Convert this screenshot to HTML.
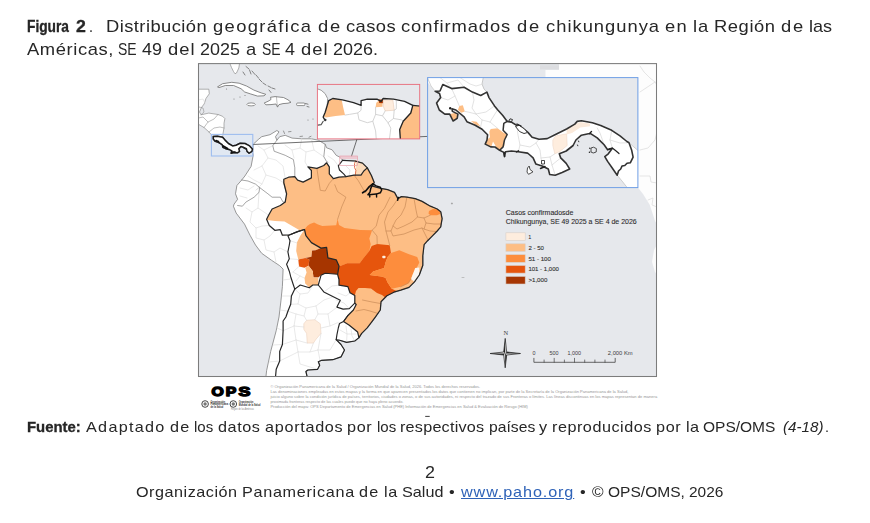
<!DOCTYPE html>
<html lang="es"><head><meta charset="utf-8"><title>Figura 2</title>
<style>
html,body{margin:0;padding:0;background:#fff;}
body{width:870px;height:523px;position:relative;overflow:hidden;font-family:"Liberation Sans",sans-serif;color:#272727;}
.t{position:absolute;white-space:nowrap;line-height:1;transform-origin:0 0;}
.b{font-weight:bold;-webkit-text-stroke:0.3px #1e1e1e;}
.i{font-style:italic;}
.u{color:#2f63b8;text-decoration:underline;text-underline-offset:1px;}
svg{position:absolute;left:0;top:0;}
</style></head><body>
<svg width="870" height="523" viewBox="0 0 870 523">
<defs><clipPath id="fr"><rect x="198.5" y="63.5" width="458" height="313"/></clipPath><clipPath id="pan"><rect x="427.6" y="77.6" width="210.3" height="110"/></clipPath><clipPath id="guy"><rect x="317.4" y="84.4" width="102.3" height="54.5"/></clipPath><filter id="bl" x="-2%" y="-2%" width="104%" height="104%"><feGaussianBlur stdDeviation="0.45"/></filter></defs>
<rect x="198.5" y="63.5" width="458" height="313" fill="#e6e8ec"/>
<g clip-path="url(#fr)"><g filter="url(#bl)">
<polygon points="559.0,63.0 658.0,63.0 658.0,225.0 655.2,221.4 649.7,204.8 643.0,194.0 637.9,187.6 637.9,77.6 545.5,77.6 545.5,70.0 559.0,70.0" fill="#fdfdfd" stroke="none" stroke-width="0.6" stroke-linejoin="round" />
<polygon points="658.0,243.0 654.0,250.0 652.0,262.0 655.0,272.0 658.0,276.0" fill="#fbfbfb" stroke="none" stroke-width="0.6" stroke-linejoin="round" />
<rect x="540" y="65.3" width="19" height="4.2" fill="#dcdde0"/>
<polyline points="640.0,66.0 644.0,72.0 650.0,78.0 655.0,82.0 657.0,85.0" fill="none" stroke="#dadada" stroke-width="0.7" stroke-linejoin="round" stroke-linecap="round" />
<polyline points="655.0,82.0 646.0,88.0 640.0,92.0" fill="none" stroke="#dadada" stroke-width="0.7" stroke-linejoin="round" stroke-linecap="round" />
<polyline points="640.0,150.0 648.0,148.0 655.0,140.0 657.0,132.0" fill="none" stroke="#dadada" stroke-width="0.7" stroke-linejoin="round" stroke-linecap="round" />
<polyline points="640.0,176.0 650.0,176.0 651.0,182.0 657.0,183.0" fill="none" stroke="#dadada" stroke-width="0.7" stroke-linejoin="round" stroke-linecap="round" />
<polyline points="648.0,200.0 653.0,198.0 652.0,205.0 657.0,207.0" fill="none" stroke="#dadada" stroke-width="0.7" stroke-linejoin="round" stroke-linecap="round" />
<polygon points="229.7,63.0 239.6,63.0 238.8,68.0 236.5,73.0 235.0,73.8 233.5,71.5 231.5,67.5" fill="#fff" stroke="#808080" stroke-width="0.6" stroke-linejoin="round" />
<polygon points="198.0,89.2 208.8,89.2 209.3,93.8 206.0,98.4 204.2,103.9 201.4,107.6 199.5,112.0 201.0,114.8 208.8,113.1 218.0,114.5 222.6,116.3 224.9,118.6 224.0,123.2 224.0,128.0 222.8,134.7 222.8,136.7 213.2,136.7 209.0,132.0 204.0,127.5 198.0,124.0" fill="#fff" stroke="#808080" stroke-width="0.6" stroke-linejoin="round" />
<polyline points="198.5,100.0 203.0,99.0 205.0,103.0" fill="none" stroke="#dadada" stroke-width="0.6" stroke-linejoin="round" stroke-linecap="round" />
<polyline points="199.0,107.0 203.0,108.0 204.0,112.0 201.0,114.8" fill="none" stroke="#808080" stroke-width="0.5" stroke-linejoin="round" stroke-linecap="round" />
<polyline points="204.0,127.5 208.0,122.0 214.0,119.0 218.0,114.5" fill="none" stroke="#808080" stroke-width="0.5" stroke-linejoin="round" stroke-linecap="round" />
<polyline points="209.0,132.0 214.0,128.0 220.0,127.0 224.0,128.0" fill="none" stroke="#808080" stroke-width="0.5" stroke-linejoin="round" stroke-linecap="round" />
<polyline points="198.5,118.0 203.0,117.0 206.0,120.0 208.0,122.0" fill="none" stroke="#808080" stroke-width="0.5" stroke-linejoin="round" stroke-linecap="round" />
<polygon points="217.5,86.9 222.6,83.7 231.8,82.3 239.1,83.2 246.5,86.0 253.9,90.1 261.2,92.9 265.8,94.3 264.0,95.8 257.5,96.1 250.2,93.8 244.7,92.0 241.0,88.7 233.6,85.5 225.3,85.5 219.0,87.6" fill="#fff" stroke="#767676" stroke-width="0.85" stroke-linejoin="round" />
<ellipse cx="251.1" cy="104.4" rx="4.2" ry="1.5" fill="#fff" stroke="#767676" stroke-width="0.8"/>
<polygon points="264.2,103.0 268.0,101.3 271.0,99.5 270.5,97.3 275.0,96.6 283.5,97.5 288.0,99.8 291.0,102.3 288.0,103.2 283.0,103.6 279.0,104.6 277.5,107.0 276.0,104.0 271.0,104.6 266.0,104.8" fill="#fff" stroke="#767676" stroke-width="0.85" stroke-linejoin="round" />
<polyline points="276.5,97.0 276.8,101.0 277.5,107.0" fill="none" stroke="#808080" stroke-width="0.5" stroke-linejoin="round" stroke-linecap="round" />
<rect x="296.6" y="103" width="8.3" height="2.6" rx="1" fill="#fff" stroke="#767676" stroke-width="0.8"/>
<polyline points="246.0,66.5 249.0,69.0" fill="none" stroke="#777" stroke-width="0.9" stroke-linejoin="round" stroke-linecap="round" />
<polyline points="249.5,70.0 251.0,74.0" fill="none" stroke="#777" stroke-width="0.9" stroke-linejoin="round" stroke-linecap="round" />
<polyline points="252.0,71.0 255.0,74.5" fill="none" stroke="#777" stroke-width="0.9" stroke-linejoin="round" stroke-linecap="round" />
<polyline points="256.0,75.0 258.5,78.0" fill="none" stroke="#777" stroke-width="0.9" stroke-linejoin="round" stroke-linecap="round" />
<polyline points="259.0,79.0 262.0,82.0" fill="none" stroke="#777" stroke-width="0.9" stroke-linejoin="round" stroke-linecap="round" />
<polyline points="263.0,83.0 266.0,85.0" fill="none" stroke="#777" stroke-width="0.9" stroke-linejoin="round" stroke-linecap="round" />
<polyline points="268.0,86.0 271.0,87.5" fill="none" stroke="#777" stroke-width="0.9" stroke-linejoin="round" stroke-linecap="round" />
<polyline points="272.0,88.0 275.0,89.0" fill="none" stroke="#777" stroke-width="0.9" stroke-linejoin="round" stroke-linecap="round" />
<polyline points="269.0,90.0 271.0,92.5" fill="none" stroke="#777" stroke-width="0.9" stroke-linejoin="round" stroke-linecap="round" />
<polyline points="243.0,72.0 245.0,75.0" fill="none" stroke="#777" stroke-width="0.9" stroke-linejoin="round" stroke-linecap="round" />
<polyline points="305.5,103.5 308.0,104.2" fill="none" stroke="#777" stroke-width="0.9" stroke-linejoin="round" stroke-linecap="round" />
<polyline points="307.0,106.5 309.0,107.0" fill="none" stroke="#777" stroke-width="0.9" stroke-linejoin="round" stroke-linecap="round" />
<circle cx="226.5" cy="89" r="0.6" fill="#808080"/>
<circle cx="234" cy="99" r="0.6" fill="#808080"/>
<circle cx="240" cy="97" r="0.6" fill="#808080"/>
<circle cx="245" cy="95.5" r="0.6" fill="#808080"/>
<circle cx="308" cy="120" r="0.6" fill="#808080"/>
<circle cx="313" cy="119" r="0.6" fill="#808080"/>
<polyline points="283.5,131.0 284.5,133.5" fill="none" stroke="#808080" stroke-width="0.8" stroke-linejoin="round" stroke-linecap="round" />
<polyline points="288.5,131.8 291.0,131.5" fill="none" stroke="#808080" stroke-width="0.8" stroke-linejoin="round" stroke-linecap="round" />
<polyline points="300.0,136.5 302.5,136.2" fill="none" stroke="#808080" stroke-width="0.8" stroke-linejoin="round" stroke-linecap="round" />
<polyline points="309.0,137.2 311.0,136.3" fill="none" stroke="#808080" stroke-width="0.8" stroke-linejoin="round" stroke-linecap="round" />
<polygon points="253.2,144.3 258.3,139.5 261.7,136.7 270.0,134.7 276.9,130.5 279.0,131.9 275.5,136.7 276.9,140.2 279.7,136.7 285.2,135.3 292.1,138.1 301.7,138.8 311.4,138.8 318.3,140.2 325.2,144.3 326.6,147.8 332.1,149.8 336.2,155.3 340.3,157.4 342.5,160.3 354.9,161.0 362.5,163.1 367.3,167.9 371.4,175.5 374.2,182.4 372.4,186.2 380.7,188.3 387.6,189.7 394.5,192.4 397.9,198.6 401.4,196.6 406.9,197.2 415.2,198.6 422.1,201.4 430.3,206.2 437.2,209.0 440.7,211.7 442.1,218.6 440.7,226.9 437.2,231.0 431.7,236.6 427.6,240.7 424.1,244.7 422.8,255.7 422.8,265.3 419.3,275.0 414.5,281.9 409.0,287.4 400.7,290.2 393.8,292.2 386.9,295.7 381.0,301.7 380.3,310.0 375.5,316.9 371.4,322.4 367.2,327.9 361.7,333.4 359.0,337.6 354.8,341.0 346.6,342.4 339.7,340.3 336.2,339.7 341.0,344.5 344.5,350.0 341.0,356.9 332.8,359.7 321.7,360.3 318.3,361.7 319.7,365.2 317.6,369.3 307.9,370.0 305.9,371.4 307.2,377.0 265.9,377.0 266.6,370.7 270.7,351.4 276.2,330.7 279.0,317.0 281.0,300.2 282.4,286.4 283.1,269.1 279.7,265.7 271.4,260.2 261.7,253.3 255.5,245.0 250.0,235.2 244.5,224.1 236.2,213.1 233.4,206.2 234.1,204.1 237.6,199.3 235.5,193.8 236.9,185.5 241.7,180.0 244.9,176.0 251.1,166.4 253.2,155.3 252.8,152.6" fill="#fff" stroke="#808080" stroke-width="0.8" stroke-linejoin="round" />
<polygon points="283.8,182.8 283.8,179.3 288.6,177.2 294.8,176.7 297.6,180.2 303.1,182.1 311.4,177.9 311.4,170.5 307.9,166.9 316.9,168.3 323.8,165.5 326.6,162.8 329.3,166.9 329.3,173.8 333.4,178.6 339.0,177.2 345.9,176.6 354.1,175.2 361.0,175.2 363.8,171.0 367.3,167.9 371.4,175.5 374.2,182.4 372.4,186.2 380.7,188.3 387.6,189.7 394.5,192.4 397.9,198.6 401.4,196.6 406.9,197.2 415.2,198.6 422.1,201.4 430.3,206.2 437.2,209.0 440.7,211.7 442.1,218.6 440.7,226.9 437.2,231.0 431.7,236.6 427.6,240.7 424.1,244.7 422.8,255.7 422.8,265.3 419.3,275.0 414.5,281.9 409.0,287.4 400.7,290.2 393.8,292.2 386.9,295.7 381.0,301.7 380.3,310.0 375.5,316.9 371.4,322.4 367.2,327.9 361.7,333.4 359.0,337.6 357.6,332.1 349.3,325.2 343.5,321.5 347.9,315.5 353.4,310.0 356.2,304.5 354.8,303.1 354.8,295.5 350.0,292.8 347.9,286.6 339.0,285.2 339.0,279.5 337.6,274.3 339.0,266.0 336.2,259.8 327.9,257.8 326.6,247.4 321.0,248.1 311.4,242.6 305.9,235.7 304.5,229.5 297.6,231.6 289.3,235.0 282.4,235.2 280.3,229.7 274.8,230.3 269.3,225.5 266.6,219.3 268.6,215.2 272.1,209.0 280.3,205.5 285.2,202.1 286.6,193.8 284.5,185.5" fill="#fdbe85" stroke="none" stroke-width="0.6" stroke-linejoin="round" />
<polygon points="267.2,220.0 275.0,221.0 284.5,221.4 291.4,225.5 299.6,230.2 297.6,231.6 289.3,235.0 282.4,235.2 280.3,229.7 274.8,230.3 269.3,225.5 266.6,219.3" fill="#fff" stroke="none" stroke-width="0.6" stroke-linejoin="round" />
<polygon points="304.5,229.5 307.2,226.0 310.0,224.0 314.1,222.6 318.0,224.5 322.4,226.0 336.2,225.3 337.6,219.0 339.0,225.0 344.5,228.1 360.0,230.0 372.1,230.2 369.3,238.4 370.7,244.0 369.3,250.9 363.8,257.8 359.7,263.3 347.2,263.3 340.3,266.0 339.0,266.0 336.2,259.8 327.9,257.8 326.6,247.4 321.0,248.1 311.4,242.6 305.9,235.7" fill="#fd8d3c" stroke="none" stroke-width="0.6" stroke-linejoin="round" />
<polygon points="371.7,246.0 377.2,244.0 389.7,245.3 391.0,252.9 387.6,257.1 385.5,262.6 384.1,268.1 373.1,271.6 369.7,275.0 381.4,276.4 385.5,277.8 387.6,282.6 391.7,288.8 396.6,290.9 393.8,292.2 386.9,295.7 381.0,300.5 385.2,297.6 382.0,295.0 377.0,293.0 371.0,288.5 365.0,288.0 358.5,288.0 356.0,291.0 354.8,295.5 350.0,292.8 347.9,286.6 339.0,285.2 339.0,279.5 337.6,274.3 339.0,266.0 340.3,266.0 347.2,263.3 359.7,263.3 363.8,257.8 369.3,250.9" fill="#e6550d" stroke="none" stroke-width="0.6" stroke-linejoin="round" />
<polygon points="391.0,252.9 399.3,250.2 409.0,254.3 417.2,257.1 419.3,262.6 416.6,268.1 413.1,273.6 411.0,279.1 409.0,283.3 400.7,286.7 391.7,288.8 387.6,282.6 385.5,277.8 381.4,276.4 369.7,275.0 373.1,271.6 384.1,268.1 385.5,262.6 387.6,257.1" fill="#fd8d3c" stroke="none" stroke-width="0.6" stroke-linejoin="round" />
<polygon points="415.2,268.1 419.3,267.4 419.3,275.0 414.5,281.9 411.0,279.1 413.1,273.6" fill="#fdf6ee" stroke="none" stroke-width="0.6" stroke-linejoin="round" />
<rect x="382.3" y="255.8" width="3.2" height="2.4" rx="0.8" fill="#fdeedf"/>
<polygon points="429.0,211.0 433.0,209.0 437.2,209.3 440.2,212.0 440.0,214.0 437.0,215.3 430.3,215.2 428.5,213.5" fill="#fd8d3c" stroke="none" stroke-width="0.6" stroke-linejoin="round" />
<polyline points="316.9,168.3 318.3,177.9 320.3,190.3 325.2,191.0 329.3,183.4 333.4,178.6" fill="none" stroke="#c98b58" stroke-width="0.7" stroke-linejoin="round" stroke-linecap="round" />
<polyline points="334.8,184.8 337.6,191.7 345.9,197.2 341.7,206.9 337.6,219.3" fill="none" stroke="#c98b58" stroke-width="0.7" stroke-linejoin="round" stroke-linecap="round" />
<polyline points="354.1,175.2 358.3,180.7 363.8,190.3 366.0,193.0" fill="none" stroke="#c98b58" stroke-width="0.7" stroke-linejoin="round" stroke-linecap="round" />
<polyline points="390.0,197.2 384.5,208.3 379.0,215.2 376.2,226.2 372.1,230.2" fill="none" stroke="#c98b58" stroke-width="0.7" stroke-linejoin="round" stroke-linecap="round" />
<polyline points="397.9,198.6 393.0,206.0 388.0,212.0 384.5,222.0 386.0,231.0 389.7,245.3" fill="none" stroke="#c98b58" stroke-width="0.7" stroke-linejoin="round" stroke-linecap="round" />
<polyline points="406.9,197.2 405.0,207.0 401.0,215.0 396.0,220.0 393.0,226.0 391.0,231.0 386.0,231.0" fill="none" stroke="#c98b58" stroke-width="0.7" stroke-linejoin="round" stroke-linecap="round" />
<polyline points="414.0,198.5 416.0,210.0 417.5,217.0 412.0,222.0 404.0,226.0 397.0,229.0 393.0,226.0" fill="none" stroke="#c98b58" stroke-width="0.7" stroke-linejoin="round" stroke-linecap="round" />
<polyline points="417.5,217.0 424.0,218.0 430.3,215.2" fill="none" stroke="#c98b58" stroke-width="0.7" stroke-linejoin="round" stroke-linecap="round" />
<polyline points="424.0,218.0 426.0,223.0 434.0,224.0 440.7,224.0" fill="none" stroke="#c98b58" stroke-width="0.7" stroke-linejoin="round" stroke-linecap="round" />
<polyline points="426.0,223.0 424.0,229.0 430.0,231.0 436.0,231.5" fill="none" stroke="#c98b58" stroke-width="0.7" stroke-linejoin="round" stroke-linecap="round" />
<polyline points="391.0,231.0 393.0,236.0 404.0,234.0 414.0,230.0 422.0,228.0 424.0,229.0" fill="none" stroke="#c98b58" stroke-width="0.7" stroke-linejoin="round" stroke-linecap="round" />
<polyline points="422.0,228.0 426.0,236.0 428.0,240.0" fill="none" stroke="#c98b58" stroke-width="0.7" stroke-linejoin="round" stroke-linecap="round" />
<polyline points="372.1,230.2 377.0,236.0 377.2,244.0" fill="none" stroke="#c98b58" stroke-width="0.7" stroke-linejoin="round" stroke-linecap="round" />
<polyline points="283.8,182.8 286.6,193.8" fill="none" stroke="#c98b58" stroke-width="0.7" stroke-linejoin="round" stroke-linecap="round" />
<polyline points="362.5,300.0 372.0,302.0 380.5,303.5" fill="none" stroke="#c98b58" stroke-width="0.7" stroke-linejoin="round" stroke-linecap="round" />
<polyline points="356.0,311.0 364.0,309.5 370.0,311.0 378.0,313.5" fill="none" stroke="#c98b58" stroke-width="0.7" stroke-linejoin="round" stroke-linecap="round" />
<polyline points="400.7,286.7 407.5,283.5 411.0,279.1" fill="none" stroke="#c98b58" stroke-width="0.7" stroke-linejoin="round" stroke-linecap="round" />
<polygon points="304.5,229.5 305.9,235.7 311.4,242.6 321.0,248.1 315.5,250.2 312.1,250.5 311.4,256.7 305.2,258.1 298.3,259.5 296.2,250.9 296.9,242.6 300.3,235.7" fill="#fdbe85" stroke="none" stroke-width="0.6" stroke-linejoin="round" />
<polygon points="298.3,259.5 305.2,258.1 309.3,259.5 308.6,265.7 304.5,267.8 299.0,266.4" fill="#e6550d" stroke="none" stroke-width="0.6" stroke-linejoin="round" />
<polygon points="312.1,250.5 315.5,250.2 321.0,248.1 326.6,247.4 327.9,257.8 336.2,259.8 339.0,266.0 337.6,274.3 325.2,273.3 321.0,275.3 318.3,277.4 313.4,277.4 312.8,271.2 308.6,265.7 309.3,259.5 305.2,258.1 311.4,256.7" fill="#a63603" stroke="none" stroke-width="0.6" stroke-linejoin="round" />
<polygon points="305.2,267.8 308.6,265.7 312.8,271.2 313.4,277.4 318.3,277.4 318.3,285.0 312.8,285.0 309.3,287.4 305.2,283.6 304.5,278.1 306.6,272.6" fill="#fdbe85" stroke="none" stroke-width="0.6" stroke-linejoin="round" />
<polygon points="303.8,323.8 306.6,320.3 314.8,319.7 320.3,323.8 321.0,333.4 316.2,339.0 313.4,343.1 307.2,343.1 306.6,333.4 303.8,329.3" fill="#feedde" stroke="#e8cdb8" stroke-width="0.5" stroke-linejoin="round" />
<polygon points="355.6,161.7 362.5,163.1 367.3,167.9 363.8,171.0 361.0,175.2 355.2,175.6 355.8,169.0" fill="#fcdcbc" stroke="none" stroke-width="0.6" stroke-linejoin="round" />
<polyline points="355.9,160.5 354.5,163.4 354.5,167.6 355.9,170.3 355.2,175.6" fill="none" stroke="#e0643c" stroke-width="0.9" stroke-linejoin="round" stroke-linecap="round" />
<polyline points="258.0,146.0 264.0,150.0 268.0,158.0 262.0,166.0 254.0,170.0" fill="none" stroke="#dadada" stroke-width="0.6" stroke-linejoin="round" stroke-linecap="round" />
<polyline points="268.0,158.0 276.0,160.0 283.0,166.0 285.2,178.1" fill="none" stroke="#dadada" stroke-width="0.6" stroke-linejoin="round" stroke-linecap="round" />
<polyline points="262.0,166.0 266.0,175.0 262.0,184.0 256.0,190.0" fill="none" stroke="#dadada" stroke-width="0.6" stroke-linejoin="round" stroke-linecap="round" />
<polyline points="266.0,175.0 276.0,178.0 283.8,182.8" fill="none" stroke="#dadada" stroke-width="0.6" stroke-linejoin="round" stroke-linecap="round" />
<polyline points="264.0,150.0 272.8,145.7" fill="none" stroke="#dadada" stroke-width="0.6" stroke-linejoin="round" stroke-linecap="round" />
<polyline points="248.0,176.0 254.0,180.0 262.0,184.0" fill="none" stroke="#dadada" stroke-width="0.6" stroke-linejoin="round" stroke-linecap="round" />
<polyline points="256.0,190.0 259.7,187.6" fill="none" stroke="#dadada" stroke-width="0.6" stroke-linejoin="round" stroke-linecap="round" />
<polyline points="285.0,145.0 292.0,150.0 300.0,148.0 306.0,152.0 314.0,150.0 323.8,156.7" fill="none" stroke="#dadada" stroke-width="0.6" stroke-linejoin="round" stroke-linecap="round" />
<polyline points="292.0,150.0 294.0,158.0" fill="none" stroke="#dadada" stroke-width="0.6" stroke-linejoin="round" stroke-linecap="round" />
<polyline points="306.0,152.0 305.0,162.0 307.9,166.9" fill="none" stroke="#dadada" stroke-width="0.6" stroke-linejoin="round" stroke-linecap="round" />
<polyline points="300.0,148.0 301.7,138.8" fill="none" stroke="#dadada" stroke-width="0.6" stroke-linejoin="round" stroke-linecap="round" />
<polyline points="314.0,150.0 311.4,138.8" fill="none" stroke="#dadada" stroke-width="0.6" stroke-linejoin="round" stroke-linecap="round" />
<polyline points="240.0,188.0 248.0,190.0 254.0,186.0" fill="none" stroke="#dadada" stroke-width="0.6" stroke-linejoin="round" stroke-linecap="round" />
<polyline points="240.0,196.0 247.0,198.0" fill="none" stroke="#dadada" stroke-width="0.6" stroke-linejoin="round" stroke-linecap="round" />
<polyline points="246.0,208.0 252.0,212.0 258.0,208.0 264.0,212.0 268.6,215.2" fill="none" stroke="#dadada" stroke-width="0.6" stroke-linejoin="round" stroke-linecap="round" />
<polyline points="252.0,212.0 250.0,222.0 256.0,228.0 262.0,226.0 269.3,225.5" fill="none" stroke="#dadada" stroke-width="0.6" stroke-linejoin="round" stroke-linecap="round" />
<polyline points="256.0,228.0 256.0,238.0 264.0,240.0 270.0,236.0 274.8,230.3" fill="none" stroke="#dadada" stroke-width="0.6" stroke-linejoin="round" stroke-linecap="round" />
<polyline points="264.0,240.0 266.0,250.0 274.0,252.0 280.0,248.0 287.9,251.9" fill="none" stroke="#dadada" stroke-width="0.6" stroke-linejoin="round" stroke-linecap="round" />
<polyline points="274.0,252.0 276.0,262.0" fill="none" stroke="#dadada" stroke-width="0.6" stroke-linejoin="round" stroke-linecap="round" />
<polyline points="258.0,208.0 259.0,192.4" fill="none" stroke="#dadada" stroke-width="0.6" stroke-linejoin="round" stroke-linecap="round" />
<polyline points="290.0,240.7 297.0,243.0" fill="none" stroke="#dadada" stroke-width="0.6" stroke-linejoin="round" stroke-linecap="round" />
<polyline points="289.3,258.8 298.3,259.5" fill="none" stroke="#dadada" stroke-width="0.6" stroke-linejoin="round" stroke-linecap="round" />
<polyline points="293.0,272.0 299.0,266.4" fill="none" stroke="#dadada" stroke-width="0.6" stroke-linejoin="round" stroke-linecap="round" />
<polyline points="293.0,272.0 300.0,276.0 304.5,278.1" fill="none" stroke="#dadada" stroke-width="0.6" stroke-linejoin="round" stroke-linecap="round" />
<polyline points="296.0,281.0 300.0,276.0" fill="none" stroke="#dadada" stroke-width="0.6" stroke-linejoin="round" stroke-linecap="round" />
<polyline points="283.0,280.0 291.0,279.0" fill="none" stroke="#dadada" stroke-width="0.6" stroke-linejoin="round" stroke-linecap="round" />
<polyline points="282.0,296.0 291.4,296.0" fill="none" stroke="#dadada" stroke-width="0.6" stroke-linejoin="round" stroke-linecap="round" />
<polyline points="280.0,310.0 287.9,311.2" fill="none" stroke="#dadada" stroke-width="0.6" stroke-linejoin="round" stroke-linecap="round" />
<polyline points="277.0,328.0 283.1,330.7" fill="none" stroke="#dadada" stroke-width="0.6" stroke-linejoin="round" stroke-linecap="round" />
<polyline points="273.0,345.0 282.4,344.5" fill="none" stroke="#dadada" stroke-width="0.6" stroke-linejoin="round" stroke-linecap="round" />
<polyline points="269.0,362.0 279.7,361.0" fill="none" stroke="#dadada" stroke-width="0.6" stroke-linejoin="round" stroke-linecap="round" />
<polyline points="294.8,289.1 300.0,294.0 308.0,293.0 312.0,287.0" fill="none" stroke="#dadada" stroke-width="0.6" stroke-linejoin="round" stroke-linecap="round" />
<polyline points="300.0,294.0 298.0,304.0 290.7,304.3" fill="none" stroke="#dadada" stroke-width="0.6" stroke-linejoin="round" stroke-linecap="round" />
<polyline points="298.0,304.0 306.0,308.0 316.0,306.0 324.0,300.0 332.8,296.9" fill="none" stroke="#dadada" stroke-width="0.6" stroke-linejoin="round" stroke-linecap="round" />
<polyline points="316.0,306.0 318.0,314.0 314.8,319.7" fill="none" stroke="#dadada" stroke-width="0.6" stroke-linejoin="round" stroke-linecap="round" />
<polyline points="318.0,314.0 328.0,314.0 336.2,307.9" fill="none" stroke="#dadada" stroke-width="0.6" stroke-linejoin="round" stroke-linecap="round" />
<polyline points="328.0,314.0 330.0,326.0 338.3,322.4" fill="none" stroke="#dadada" stroke-width="0.6" stroke-linejoin="round" stroke-linecap="round" />
<polyline points="330.0,326.0 321.0,328.0" fill="none" stroke="#dadada" stroke-width="0.6" stroke-linejoin="round" stroke-linecap="round" />
<polyline points="306.0,308.0 304.0,316.0 306.6,320.3" fill="none" stroke="#dadada" stroke-width="0.6" stroke-linejoin="round" stroke-linecap="round" />
<polyline points="287.9,311.2 296.0,314.0 304.0,316.0" fill="none" stroke="#dadada" stroke-width="0.6" stroke-linejoin="round" stroke-linecap="round" />
<polyline points="296.0,314.0 294.0,326.0 303.8,327.0" fill="none" stroke="#dadada" stroke-width="0.6" stroke-linejoin="round" stroke-linecap="round" />
<polyline points="283.1,330.7 294.0,326.0" fill="none" stroke="#dadada" stroke-width="0.6" stroke-linejoin="round" stroke-linecap="round" />
<polyline points="294.0,326.0 296.0,340.0 307.2,343.1" fill="none" stroke="#dadada" stroke-width="0.6" stroke-linejoin="round" stroke-linecap="round" />
<polyline points="282.4,344.5 296.0,340.0" fill="none" stroke="#dadada" stroke-width="0.6" stroke-linejoin="round" stroke-linecap="round" />
<polyline points="296.0,340.0 298.0,352.0 310.0,352.0 313.4,343.1" fill="none" stroke="#dadada" stroke-width="0.6" stroke-linejoin="round" stroke-linecap="round" />
<polyline points="279.7,361.0 298.0,352.0" fill="none" stroke="#dadada" stroke-width="0.6" stroke-linejoin="round" stroke-linecap="round" />
<polyline points="310.0,352.0 318.0,350.0 321.0,333.4" fill="none" stroke="#dadada" stroke-width="0.6" stroke-linejoin="round" stroke-linecap="round" />
<polyline points="318.0,350.0 330.0,350.0 336.2,339.7" fill="none" stroke="#dadada" stroke-width="0.6" stroke-linejoin="round" stroke-linecap="round" />
<polyline points="298.0,352.0 300.0,364.0 317.6,369.3" fill="none" stroke="#dadada" stroke-width="0.6" stroke-linejoin="round" stroke-linecap="round" />
<polyline points="318.0,350.0 320.0,360.0" fill="none" stroke="#dadada" stroke-width="0.6" stroke-linejoin="round" stroke-linecap="round" />
<polyline points="324.5,291.4 332.0,286.0 339.0,285.2" fill="none" stroke="#dadada" stroke-width="0.6" stroke-linejoin="round" stroke-linecap="round" />
<polyline points="338.0,293.0 346.0,296.0 350.0,292.8" fill="none" stroke="#dadada" stroke-width="0.6" stroke-linejoin="round" stroke-linecap="round" />
<polyline points="336.0,300.0 344.0,303.0 349.3,308.6" fill="none" stroke="#dadada" stroke-width="0.6" stroke-linejoin="round" stroke-linecap="round" />
<polyline points="346.0,326.0 347.0,334.0 346.6,342.4" fill="none" stroke="#dadada" stroke-width="0.6" stroke-linejoin="round" stroke-linecap="round" />
<polyline points="351.0,329.0 352.0,336.0 354.8,341.0" fill="none" stroke="#dadada" stroke-width="0.6" stroke-linejoin="round" stroke-linecap="round" />
<polyline points="340.0,330.0 347.0,334.0 356.0,334.0" fill="none" stroke="#dadada" stroke-width="0.6" stroke-linejoin="round" stroke-linecap="round" />
<polyline points="328.0,156.0 334.0,160.0 338.3,165.9" fill="none" stroke="#dadada" stroke-width="0.6" stroke-linejoin="round" stroke-linecap="round" />
<polyline points="346.0,166.0 350.0,170.0 349.0,176.5" fill="none" stroke="#dadada" stroke-width="0.6" stroke-linejoin="round" stroke-linecap="round" />
<polyline points="276.9,140.2 272.8,145.7 274.1,151.2 285.2,155.3 293.4,159.5 294.8,167.8 294.8,176.7" fill="none" stroke="#808080" stroke-width="0.7" stroke-linejoin="round" stroke-linecap="round" />
<polyline points="237.6,205.5 242.4,206.2 245.9,202.1 254.1,197.2 259.0,192.4 259.7,187.6 255.5,184.1 248.0,181.0 241.7,180.0" fill="none" stroke="#808080" stroke-width="0.7" stroke-linejoin="round" stroke-linecap="round" />
<polyline points="259.7,187.6 267.9,193.8 272.1,197.2 280.3,197.2 283.1,202.1 285.2,202.1" fill="none" stroke="#808080" stroke-width="0.7" stroke-linejoin="round" stroke-linecap="round" />
<polyline points="325.2,144.3 323.8,156.7 326.6,161.6 327.9,162.2" fill="none" stroke="#808080" stroke-width="0.7" stroke-linejoin="round" stroke-linecap="round" />
<polygon points="283.8,182.8 283.8,179.3 288.6,177.2 294.8,176.7 297.6,180.2 303.1,182.1 311.4,177.9 311.4,170.5 307.9,166.9 316.9,168.3 323.8,165.5 326.6,162.8 329.3,166.9 329.3,173.8 333.4,178.6 339.0,177.2 345.9,176.6 354.1,175.2 361.0,175.2 363.8,171.0 367.3,167.9 371.4,175.5 374.2,182.4 372.4,186.2 380.7,188.3 387.6,189.7 394.5,192.4 397.9,198.6 401.4,196.6 406.9,197.2 415.2,198.6 422.1,201.4 430.3,206.2 437.2,209.0 440.7,211.7 442.1,218.6 440.7,226.9 437.2,231.0 431.7,236.6 427.6,240.7 424.1,244.7 422.8,255.7 422.8,265.3 419.3,275.0 414.5,281.9 409.0,287.4 400.7,290.2 393.8,292.2 386.9,295.7 381.0,301.7 380.3,310.0 375.5,316.9 371.4,322.4 367.2,327.9 361.7,333.4 359.0,337.6 357.6,332.1 349.3,325.2 343.5,321.5 347.9,315.5 353.4,310.0 356.2,304.5 354.8,303.1 354.8,295.5 350.0,292.8 347.9,286.6 339.0,285.2 339.0,279.5 337.6,274.3 339.0,266.0 336.2,259.8 327.9,257.8 326.6,247.4 321.0,248.1 311.4,242.6 305.9,235.7 304.5,229.5 297.6,231.6 289.3,235.0 282.4,235.2 280.3,229.7 274.8,230.3 269.3,225.5 266.6,219.3 268.6,215.2 272.1,209.0 280.3,205.5 285.2,202.1 286.6,193.8 284.5,185.5" fill="none" stroke="#262626" stroke-width="1.25" stroke-linejoin="round" />
<polyline points="372.8,183.8 369.3,186.6 365.9,190.7 362.6,192.8" fill="none" stroke="#111" stroke-width="1.7" stroke-linejoin="round" stroke-linecap="round" />
<polyline points="372.8,183.8 376.2,185.9 380.3,187.2 381.7,190.0 380.3,192.8 376.2,194.1 371.4,194.5 367.9,194.8 370.0,192.1 370.7,188.6 372.8,183.8" fill="none" stroke="#111" stroke-width="1.5" stroke-linejoin="round" stroke-linecap="round" />
<polyline points="369.5,194.6 369.8,196.9" fill="none" stroke="#111" stroke-width="1.5" stroke-linejoin="round" stroke-linecap="round" />
<polyline points="376.5,194.1 376.6,197.0" fill="none" stroke="#111" stroke-width="1.4" stroke-linejoin="round" stroke-linecap="round" />
<polyline points="397.6,200.3 398.3,197.6" fill="none" stroke="#111" stroke-width="1.5" stroke-linejoin="round" stroke-linecap="round" />
<polyline points="304.5,229.5 297.6,231.6 289.3,235.0 287.9,235.7 290.0,240.7 289.3,245.0 287.9,251.9 289.3,258.8 286.6,264.3 289.3,271.2 290.7,276.7 293.4,285.0 294.8,289.1 300.3,285.0 309.3,287.8 312.8,285.0 318.3,285.0 321.0,275.3 325.2,273.3 337.6,274.3" fill="none" stroke="#262626" stroke-width="1.15" stroke-linejoin="round" stroke-linecap="round" />
<polyline points="318.3,285.0 323.8,291.9 334.8,297.4 340.3,300.2 336.9,307.1 343.1,309.1 349.3,308.6 354.8,303.1" fill="none" stroke="#262626" stroke-width="1.15" stroke-linejoin="round" stroke-linecap="round" />
<polyline points="343.5,321.5 339.5,323.5 338.3,328.0 336.9,334.8 336.2,339.7 339.7,340.3 346.6,342.4 354.8,341.0 359.0,337.6" fill="none" stroke="#262626" stroke-width="1.15" stroke-linejoin="round" stroke-linecap="round" />
<polyline points="336.2,339.7 341.0,344.5 344.5,350.0 341.0,356.9 332.8,359.7 321.7,360.3 318.3,361.7 319.7,365.2 317.6,369.3 307.9,370.0 305.9,371.4 307.2,377.0" fill="none" stroke="#262626" stroke-width="1.2" stroke-linejoin="round" stroke-linecap="round" />
<polyline points="294.8,289.1 291.4,296.0 290.7,304.3 287.9,311.2 285.9,317.0 283.1,321.0 283.1,330.7 282.4,344.5 279.7,351.4 279.7,361.0 276.2,369.3 275.5,377.0" fill="none" stroke="#262626" stroke-width="1.2" stroke-linejoin="round" stroke-linecap="round" />
<polyline points="343.5,321.5 347.9,315.5" fill="none" stroke="#262626" stroke-width="1.1" stroke-linejoin="round" stroke-linecap="round" />
<polyline points="342.5,160.3 338.3,165.9 339.5,170.0 343.9,174.1 345.9,176.6" fill="none" stroke="#262626" stroke-width="1.1" stroke-linejoin="round" stroke-linecap="round" />
<polyline points="342.5,160.3 354.9,161.0 362.5,163.1 367.3,167.9" fill="none" stroke="#262626" stroke-width="1.2" stroke-linejoin="round" stroke-linecap="round" />
<polygon points="213.3,136.6 217.4,136.3 222.6,137.3 225.0,140.1 228.4,143.5 232.6,145.9 236.0,145.2 240.2,143.2 245.0,143.5 249.1,145.6 252.4,149.0 251.9,151.4 249.1,153.2 247.1,151.4 246.4,148.7 243.6,147.3 240.9,146.6 238.8,148.7 239.5,151.4 237.4,152.8 234.0,152.5 231.2,153.2 231.9,150.8 229.1,149.4 225.7,148.7 222.9,147.3 222.2,144.6 218.8,142.5 215.3,141.4 213.3,139.0" fill="#fff" stroke="#1e1e1e" stroke-width="1.5" stroke-linejoin="round" />
<polyline points="451.3,203.5 452.5,203.5" fill="none" stroke="#999" stroke-width="0.7" stroke-linejoin="round" stroke-linecap="round" />
<polyline points="451.9,202.9 451.9,204.1" fill="none" stroke="#999" stroke-width="0.7" stroke-linejoin="round" stroke-linecap="round" />
<polyline points="462.0,277.5 464.0,277.5" fill="none" stroke="#aaa" stroke-width="0.7" stroke-linejoin="round" stroke-linecap="round" />
<polyline points="252.8,144.5 427.6,136.4" fill="none" stroke="#4a4a4a" stroke-width="0.8" stroke-linejoin="round" stroke-linecap="round" />
<polyline points="357.0,139.0 351.4,156.5" fill="none" stroke="#4a4a4a" stroke-width="0.8" stroke-linejoin="round" stroke-linecap="round" />
<rect x="211.4" y="134.4" width="41.4" height="21.6" fill="#dbe6fb" fill-opacity="0.45" stroke="#9fbdf0" stroke-width="1.1"/>
<polygon points="213.3,136.6 217.4,136.3 222.6,137.3 225.0,140.1 228.4,143.5 232.6,145.9 236.0,145.2 240.2,143.2 245.0,143.5 249.1,145.6 252.4,149.0 251.9,151.4 249.1,153.2 247.1,151.4 246.4,148.7 243.6,147.3 240.9,146.6 238.8,148.7 239.5,151.4 237.4,152.8 234.0,152.5 231.2,153.2 231.9,150.8 229.1,149.4 225.7,148.7 222.9,147.3 222.2,144.6 218.8,142.5 215.3,141.4 213.3,139.0" fill="#fff" stroke="#1e1e1e" stroke-width="1.5" stroke-linejoin="round" />
<polyline points="216.0,140.6 218.5,141.6" fill="none" stroke="#111" stroke-width="1.6" stroke-linejoin="round" stroke-linecap="round" />
<polyline points="223.2,146.0 227.5,148.6" fill="none" stroke="#111" stroke-width="1.8" stroke-linejoin="round" stroke-linecap="round" />
<polyline points="231.5,152.0 235.0,152.0" fill="none" stroke="#111" stroke-width="1.6" stroke-linejoin="round" stroke-linecap="round" />
<polyline points="243.0,147.6 245.5,149.0" fill="none" stroke="#222" stroke-width="1.2" stroke-linejoin="round" stroke-linecap="round" />
<rect x="339.8" y="156" width="17.8" height="3" fill="#efc3cc" fill-opacity="0.8"/><rect x="339.8" y="156" width="17.8" height="9.6" fill="none" stroke="#e7a3ae" stroke-width="0.7"/>
</g></g>
<rect x="317.4" y="84.4" width="102.3" height="54.5" fill="#e6e8ec"/>
<g clip-path="url(#guy)"><g filter="url(#bl)">
<polygon points="316.3,88.2 321.1,90.2 325.2,93.7 327.6,98.5 328.7,100.6 332.8,98.5 342.5,99.9 353.5,102.7 361.1,105.4 361.1,100.6 367.3,99.2 377.0,99.2 381.1,101.3 383.2,98.5 393.5,99.2 404.6,101.3 412.8,105.4 420.4,106.1 420.4,139.9 316.3,139.9" fill="#fff" stroke="none" stroke-width="0.6" stroke-linejoin="round" />
<polygon points="328.7,100.6 332.8,98.9 341.8,100.3 343.2,107.5 345.0,115.1 335.6,116.0 325.9,117.4 323.9,116.4 326.6,107.5" fill="#fdbe85" stroke="none" stroke-width="0.6" stroke-linejoin="round" />
<polygon points="376.3,102.7 379.0,100.6 382.5,102.7 382.5,106.8 375.6,107.2" fill="#fdbe85" stroke="none" stroke-width="0.6" stroke-linejoin="round" />
<polygon points="378.6,99.5 383.0,99.5 383.3,103.3 379.2,103.1" fill="#a63603" stroke="none" stroke-width="0.6" stroke-linejoin="round" />
<polygon points="383.2,99.9 392.8,99.9 393.5,104.7 394.2,110.2 385.2,110.9 383.2,106.1" fill="#feedde" stroke="#e7c9b3" stroke-width="0.6" stroke-linejoin="round" />
<polygon points="412.8,105.4 420.4,106.1 420.4,139.9 400.4,139.9 399.7,129.6 403.2,121.3 410.1,113.0" fill="#fdbe85" stroke="none" stroke-width="0.6" stroke-linejoin="round" />
<polyline points="345.0,115.1 349.4,114.4 357.7,113.0 361.1,110.2 361.1,105.4" fill="none" stroke="#cfcfcf" stroke-width="0.9" stroke-linejoin="round" stroke-linecap="round" />
<polyline points="357.7,113.0 359.0,119.9 367.3,122.7 372.8,121.3 375.6,114.4 375.6,107.2" fill="none" stroke="#cfcfcf" stroke-width="0.9" stroke-linejoin="round" stroke-linecap="round" />
<polyline points="372.8,121.3 375.6,130.9 376.3,139.9" fill="none" stroke="#cfcfcf" stroke-width="0.9" stroke-linejoin="round" stroke-linecap="round" />
<polyline points="375.6,114.4 382.5,115.8 385.2,110.9" fill="none" stroke="#cfcfcf" stroke-width="0.9" stroke-linejoin="round" stroke-linecap="round" />
<polyline points="382.5,115.8 388.0,122.7 390.8,128.2 389.4,139.9" fill="none" stroke="#cfcfcf" stroke-width="0.9" stroke-linejoin="round" stroke-linecap="round" />
<polyline points="388.0,122.7 393.5,118.5 394.2,110.2" fill="none" stroke="#cfcfcf" stroke-width="0.9" stroke-linejoin="round" stroke-linecap="round" />
<polyline points="393.5,118.5 401.8,119.9 403.2,121.3" fill="none" stroke="#cfcfcf" stroke-width="0.9" stroke-linejoin="round" stroke-linecap="round" />
<polyline points="394.2,110.2 396.3,108.9 396.3,101.3" fill="none" stroke="#cfcfcf" stroke-width="0.9" stroke-linejoin="round" stroke-linecap="round" />
<polyline points="316.3,88.4 321.1,90.2 325.2,93.7 327.6,98.5 327.3,104.7" fill="none" stroke="#9a9a9a" stroke-width="1" stroke-linejoin="round" stroke-linecap="round" />
<polyline points="316.3,125.4 321.1,124.7 323.2,121.3" fill="none" stroke="#555" stroke-width="1.2" stroke-linejoin="round" stroke-linecap="round" />
<polyline points="325.2,120.6 323.2,117.1 325.2,112.3 326.6,107.5 328.7,100.6 332.8,98.5 342.5,99.9 353.5,102.7 361.1,105.4 361.1,100.6 367.3,99.2 377.0,99.2 381.1,101.3 383.2,98.5 393.5,99.2 404.6,101.3 412.8,105.4 410.8,113.0 403.2,121.3 399.7,129.6 400.4,139.9" fill="none" stroke="#262626" stroke-width="1.35" stroke-linejoin="round" stroke-linecap="round" />
<polyline points="412.8,105.4 420.4,106.1" fill="none" stroke="#262626" stroke-width="1.3" stroke-linejoin="round" stroke-linecap="round" />
<circle cx="325.4" cy="119.9" r="1.1" fill="#333"/>
</g></g>
<rect x="317.4" y="84.4" width="102.3" height="54.5" fill="none" stroke="#e8707f" stroke-width="0.95"/>
<rect x="427.6" y="77.6" width="210.3" height="110" fill="#e6e8ec"/>
<g clip-path="url(#pan)"><g filter="url(#bl)">
<polygon points="427.0,77.0 483.4,77.0 482.0,84.0 484.0,89.0 486.9,92.1 480.7,95.5 472.4,92.1 464.1,87.2 451.7,88.6 442.8,84.5 440.0,91.0 435.2,91.4 431.0,86.0 427.0,82.0" fill="#fff" stroke="none" stroke-width="0.6" stroke-linejoin="round" />
<polyline points="483.4,77.0 482.0,84.0 484.0,89.0 486.9,92.1" fill="none" stroke="#bdbdbd" stroke-width="0.8" stroke-linejoin="round" stroke-linecap="round" />
<polyline points="427.6,78.0 431.0,86.0 435.2,91.4" fill="none" stroke="#c9c9c9" stroke-width="0.8" stroke-linejoin="round" stroke-linecap="round" />
<polyline points="440.0,77.6 447.0,83.0 451.7,88.6" fill="none" stroke="#dadada" stroke-width="0.7" stroke-linejoin="round" stroke-linecap="round" />
<polyline points="460.0,77.6 470.0,84.0 476.0,86.0 483.0,84.0" fill="none" stroke="#dadada" stroke-width="0.7" stroke-linejoin="round" stroke-linecap="round" />
<polyline points="447.0,83.0 458.0,80.0 464.1,87.2" fill="none" stroke="#dadada" stroke-width="0.7" stroke-linejoin="round" stroke-linecap="round" />
<polygon points="435.2,91.4 440.0,91.0 442.8,84.5 451.7,88.6 464.1,87.2 472.4,92.1 480.7,95.5 486.9,92.1 489.0,97.6 494.5,105.9 497.6,109.7 502.8,115.5 507.2,121.4 511.4,122.1 516.9,125.5 522.0,127.5 527.9,132.4 532.1,137.2 539.0,139.3 547.2,138.6 555.5,134.5 566.6,129.0 574.8,124.1 577.2,121.4 581.4,120.7 592.4,122.8 600.7,125.5 611.7,130.3 620.0,135.9 626.9,141.5 629.0,142.8 631.7,150.3 633.1,157.2 630.3,162.8 627.0,163.2 624.8,165.5 622.0,166.0 620.7,169.0 618.5,171.0 617.2,175.2 612.4,168.3 607.6,161.4 604.8,156.6 608.3,153.8 612.4,148.3 607.6,149.7 604.1,144.8 597.2,137.9 591.0,133.8 588.3,133.8 581.4,135.2 575.9,140.0 573.1,145.5 566.2,151.0 559.3,153.8 560.7,157.9 566.2,163.4 569.7,169.0 562.1,172.4 555.2,175.2 549.7,174.5 548.3,169.0 542.8,166.2 535.9,164.1 533.1,157.9 529.3,154.5 527.6,153.1 518.3,151.7 511.4,151.0 505.5,151.8 504.5,156.6 503.8,152.4 499.7,150.3 495.0,147.0 490.7,146.9 485.2,144.1 487.0,140.0 487.6,134.8 482.1,129.3 475.2,125.2 466.9,121.7 464.1,116.9 455.9,110.0 452.0,108.8 452.4,111.4 457.9,114.1 457.2,118.3 453.1,121.0 449.7,114.1 444.8,114.1 439.3,110.0 436.6,103.1 440.7,97.6 439.5,93.5" fill="#fff" stroke="none" stroke-width="0.6" stroke-linejoin="round" />
<polygon points="629.0,142.8 638.5,151.0 638.5,188.0 627.5,188.0 622.8,182.0 617.2,175.2 620.7,169.0 624.8,165.5 630.3,162.8 633.1,157.2 631.7,150.3" fill="#fff" stroke="none" stroke-width="0.6" stroke-linejoin="round" />
<polyline points="629.0,142.8 638.0,150.5" fill="none" stroke="#c4c4c4" stroke-width="0.8" stroke-linejoin="round" stroke-linecap="round" />
<polyline points="617.2,175.2 622.8,182.0 627.5,188.0" fill="none" stroke="#c4c4c4" stroke-width="0.8" stroke-linejoin="round" stroke-linecap="round" />
<polygon points="459.3,105.9 462.8,105.2 464.8,111.4 461.4,112.8 457.9,110.0" fill="#fdbe85" stroke="none" stroke-width="0.6" stroke-linejoin="round" />
<polygon points="450.3,114.1 455.9,112.8 457.9,117.6 453.1,121.0 451.0,117.6" fill="#fdbe85" stroke="none" stroke-width="0.6" stroke-linejoin="round" />
<polygon points="471.0,121.0 476.6,121.7 480.7,126.6 475.2,124.5" fill="#fdbe85" stroke="none" stroke-width="0.6" stroke-linejoin="round" />
<polygon points="490.7,129.0 497.6,128.3 503.1,132.4 507.2,134.5 506.6,137.2 503.8,140.0 504.5,145.5 499.7,150.3 496.5,147.5 493.0,141.5 491.5,146.3 490.7,146.9 485.2,144.1 486.6,140.0 490.0,137.2 489.3,131.7" fill="#fdbe85" stroke="none" stroke-width="0.6" stroke-linejoin="round" />
<polygon points="552.8,140.0 555.5,135.9 566.6,133.8 567.2,145.5 559.7,151.7 554.8,153.8 552.8,145.5" fill="#feedde" stroke="#ecd3c0" stroke-width="0.5" stroke-linejoin="round" />
<polygon points="566.6,129.7 574.8,124.1 580.3,122.1 590.0,123.4 590.0,126.2 580.3,127.6 572.0,133.1 566.6,134.5" fill="#fbeadb" stroke="none" stroke-width="0.6" stroke-linejoin="round" />
<polyline points="472.4,92.1 474.0,100.0 472.0,108.0 476.0,114.0 482.1,120.0" fill="none" stroke="#d6d6d6" stroke-width="0.7" stroke-linejoin="round" stroke-linecap="round" />
<polyline points="451.7,88.6 455.0,96.0 459.3,105.9" fill="none" stroke="#d6d6d6" stroke-width="0.7" stroke-linejoin="round" stroke-linecap="round" />
<polyline points="455.0,96.0 448.0,100.0 440.7,97.6" fill="none" stroke="#d6d6d6" stroke-width="0.7" stroke-linejoin="round" stroke-linecap="round" />
<polyline points="476.0,114.0 468.0,112.0 464.8,111.4" fill="none" stroke="#d6d6d6" stroke-width="0.7" stroke-linejoin="round" stroke-linecap="round" />
<polyline points="476.0,114.0 486.0,112.0 494.5,105.9" fill="none" stroke="#d6d6d6" stroke-width="0.7" stroke-linejoin="round" stroke-linecap="round" />
<polyline points="482.1,120.0 490.0,122.0 497.6,128.3" fill="none" stroke="#d6d6d6" stroke-width="0.7" stroke-linejoin="round" stroke-linecap="round" />
<polyline points="490.0,122.0 497.6,109.7" fill="none" stroke="#d6d6d6" stroke-width="0.7" stroke-linejoin="round" stroke-linecap="round" />
<polyline points="482.1,120.0 480.7,126.6" fill="none" stroke="#d6d6d6" stroke-width="0.7" stroke-linejoin="round" stroke-linecap="round" />
<polyline points="516.9,125.5 518.0,135.0 520.0,145.0 518.3,151.7" fill="none" stroke="#d6d6d6" stroke-width="0.7" stroke-linejoin="round" stroke-linecap="round" />
<polyline points="520.0,145.0 530.0,147.0 536.0,143.0 539.0,139.3" fill="none" stroke="#d6d6d6" stroke-width="0.7" stroke-linejoin="round" stroke-linecap="round" />
<polyline points="536.0,143.0 540.0,150.0 541.0,158.0 542.8,166.2" fill="none" stroke="#d6d6d6" stroke-width="0.7" stroke-linejoin="round" stroke-linecap="round" />
<polyline points="541.0,158.0 550.0,157.0 554.8,153.8" fill="none" stroke="#d6d6d6" stroke-width="0.7" stroke-linejoin="round" stroke-linecap="round" />
<polyline points="550.0,157.0 552.0,165.0 555.2,175.2" fill="none" stroke="#d6d6d6" stroke-width="0.7" stroke-linejoin="round" stroke-linecap="round" />
<polyline points="552.0,165.0 560.7,157.9" fill="none" stroke="#d6d6d6" stroke-width="0.7" stroke-linejoin="round" stroke-linecap="round" />
<polyline points="597.2,128.0 600.0,133.0 604.1,144.8" fill="none" stroke="#d6d6d6" stroke-width="0.7" stroke-linejoin="round" stroke-linecap="round" />
<polyline points="611.7,130.3 610.0,140.0 612.4,148.3" fill="none" stroke="#d6d6d6" stroke-width="0.7" stroke-linejoin="round" stroke-linecap="round" />
<polyline points="610.0,140.0 620.0,143.0 626.9,142.8" fill="none" stroke="#d6d6d6" stroke-width="0.7" stroke-linejoin="round" stroke-linecap="round" />
<polygon points="435.2,91.4 440.0,91.0 442.8,84.5 451.7,88.6 464.1,87.2 472.4,92.1 480.7,95.5 486.9,92.1 489.0,97.6 494.5,105.9 497.6,109.7 502.8,115.5 507.2,121.4 511.4,122.1 516.9,125.5 522.0,127.5 527.9,132.4 532.1,137.2 539.0,139.3 547.2,138.6 555.5,134.5 566.6,129.0 574.8,124.1 577.2,121.4 581.4,120.7 592.4,122.8 600.7,125.5 611.7,130.3 620.0,135.9 626.9,141.5 629.0,142.8 631.7,150.3 633.1,157.2 630.3,162.8 627.0,163.2 624.8,165.5 622.0,166.0 620.7,169.0 618.5,171.0 617.2,175.2 612.4,168.3 607.6,161.4 604.8,156.6 608.3,153.8 612.4,148.3 607.6,149.7 604.1,144.8 597.2,137.9 591.0,133.8 588.3,133.8 581.4,135.2 575.9,140.0 573.1,145.5 566.2,151.0 559.3,153.8 560.7,157.9 566.2,163.4 569.7,169.0 562.1,172.4 555.2,175.2 549.7,174.5 548.3,169.0 542.8,166.2 535.9,164.1 533.1,157.9 529.3,154.5 527.6,153.1 518.3,151.7 511.4,151.0 505.5,151.8 504.5,156.6 503.8,152.4 499.7,150.3 495.0,147.0 490.7,146.9 485.2,144.1 487.0,140.0 487.6,134.8 482.1,129.3 475.2,125.2 466.9,121.7 464.1,116.9 455.9,110.0 452.0,108.8 452.4,111.4 457.9,114.1 457.2,118.3 453.1,121.0 449.7,114.1 444.8,114.1 439.3,110.0 436.6,103.1 440.7,97.6 439.5,93.5" fill="none" stroke="#333" stroke-width="1.6" stroke-linejoin="round" />
<polyline points="507.2,121.4 503.8,123.4 503.1,130.3 507.2,134.5 504.5,140.0 503.1,146.9 499.7,150.3" fill="none" stroke="#333" stroke-width="1.5" stroke-linejoin="round" stroke-linecap="round" />
<polyline points="508.5,121.8 510.0,118.8 512.5,119.5 511.4,122.1" fill="none" stroke="#3a3a3a" stroke-width="1" stroke-linejoin="round" stroke-linecap="round" />
<polygon points="515.5,126.5 519.0,125.2 524.5,129.0 527.5,132.5 524.0,133.5 519.5,131.5" fill="#fff" stroke="#3a3a3a" stroke-width="1" stroke-linejoin="round" />
<polyline points="517.0,124.0 521.0,126.0" fill="none" stroke="#222" stroke-width="1.3" stroke-linejoin="round" stroke-linecap="round" />
<polygon points="527.5,168.0 529.2,166.0 530.0,169.5 533.0,171.8 531.0,173.0 528.5,174.3 527.0,172.0" fill="#fff" stroke="#3a3a3a" stroke-width="0.9" stroke-linejoin="round" />
<polygon points="591.0,148.0 593.5,147.2 596.4,148.6 596.2,152.0 593.2,153.0 591.0,152.0" fill="#e6e8ec" stroke="#3a3a3a" stroke-width="0.9" stroke-linejoin="round" />
<circle cx="589.8" cy="148.3" r="0.7" fill="#222"/><circle cx="589.5" cy="152.2" r="0.8" fill="#222"/>
<circle cx="450.2" cy="108.3" r="1.2" fill="#222"/>
<polyline points="504.0,152.5 504.6,156.4" fill="none" stroke="#222" stroke-width="1.4" stroke-linejoin="round" stroke-linecap="round" />
<polyline points="516.5,152.0 518.5,150.8" fill="none" stroke="#222" stroke-width="1.4" stroke-linejoin="round" stroke-linecap="round" />
<polygon points="541.5,160.5 544.5,160.5 544.5,164.0 541.5,164.0" fill="#fff" stroke="#222" stroke-width="0.8" stroke-linejoin="round" />
<polyline points="540.5,168.5 545.0,166.5" fill="none" stroke="#222" stroke-width="1.4" stroke-linejoin="round" stroke-linecap="round" />
<polyline points="578.5,141.0 578.8,141.8" fill="none" stroke="#333" stroke-width="1" stroke-linejoin="round" stroke-linecap="round" />
<polyline points="577.5,145.0 577.8,145.8" fill="none" stroke="#333" stroke-width="1" stroke-linejoin="round" stroke-linecap="round" />
<polyline points="607.6,149.7 610.0,148.6 612.6,148.2 615.5,150.5 619.0,153.5" fill="none" stroke="#222" stroke-width="1.2" stroke-linejoin="round" stroke-linecap="round" />
<polyline points="589.5,133.5 591.5,131.5" fill="none" stroke="#222" stroke-width="1.4" stroke-linejoin="round" stroke-linecap="round" />
</g></g>
<rect x="427.6" y="77.6" width="210.3" height="110" fill="none" stroke="#6f9fe6" stroke-width="1"/>
<text x="505.7" y="215.4" font-size="6.9" font-family="Liberation Sans, sans-serif" fill="#2e2e2e" stroke="#2e2e2e" stroke-width="0.1" textLength="67.7" lengthAdjust="spacingAndGlyphs">Casos confirmadosde</text>
<text x="505.7" y="224.4" font-size="6.9" font-family="Liberation Sans, sans-serif" fill="#2e2e2e" stroke="#2e2e2e" stroke-width="0.1" textLength="131" lengthAdjust="spacingAndGlyphs">Chikungunya, SE 49 2025 a SE 4 de 2026</text>
<rect x="505.9" y="232.8" width="19.3" height="7.6" fill="#feedde" stroke="#d9d0c8" stroke-width="0.6"/>
<text x="528.4" y="238.7" font-size="5.8" font-family="Liberation Sans, sans-serif" fill="#333" stroke="#333" stroke-width="0.12" textLength="2.6" lengthAdjust="spacingAndGlyphs">1</text>
<rect x="505.9" y="243.8" width="19.3" height="7.6" fill="#fdbe85" stroke="#d9d0c8" stroke-width="0.6"/>
<text x="528.4" y="249.7" font-size="5.8" font-family="Liberation Sans, sans-serif" fill="#333" stroke="#333" stroke-width="0.12" textLength="15.5" lengthAdjust="spacingAndGlyphs">2 - 50</text>
<rect x="505.9" y="254.7" width="19.3" height="7.6" fill="#fd8d3c" stroke="#d9d0c8" stroke-width="0.6"/>
<text x="528.4" y="260.6" font-size="5.8" font-family="Liberation Sans, sans-serif" fill="#333" stroke="#333" stroke-width="0.12" textLength="22.5" lengthAdjust="spacingAndGlyphs">51 - 100</text>
<rect x="505.9" y="265.5" width="19.3" height="7.6" fill="#e6550d" stroke="#d9d0c8" stroke-width="0.6"/>
<text x="528.4" y="271.4" font-size="5.8" font-family="Liberation Sans, sans-serif" fill="#333" stroke="#333" stroke-width="0.12" textLength="30.5" lengthAdjust="spacingAndGlyphs">101 - 1,000</text>
<rect x="505.9" y="276.4" width="19.3" height="7.6" fill="#a63603" stroke="#d9d0c8" stroke-width="0.6"/>
<text x="528.4" y="282.3" font-size="5.8" font-family="Liberation Sans, sans-serif" fill="#333" stroke="#333" stroke-width="0.12" textLength="19" lengthAdjust="spacingAndGlyphs">>1,000</text>
<text x="505.8" y="335.2" font-size="6.5" font-family="Liberation Serif, serif" fill="#444" text-anchor="middle">N</text>
<polygon points="505.2,338.4 506.7,352.0 520.5,353.5 506.7,355.0 505.2,367.8 503.7,355.0 490.1,353.5 503.7,352.0" fill="#eee" stroke="#1a1a1a" stroke-width="0.7" stroke-linejoin="round" />
<polygon points="505.2,338.4 505.2,353.5 503.7,352.0" fill="#222" stroke="none" stroke-width="0.6" stroke-linejoin="round" />
<polygon points="520.5,353.5 505.2,353.5 506.7,352.0" fill="#222" stroke="none" stroke-width="0.6" stroke-linejoin="round" />
<polygon points="505.2,367.8 505.2,353.5 506.7,355.0" fill="#222" stroke="none" stroke-width="0.6" stroke-linejoin="round" />
<polygon points="490.1,353.5 505.2,353.5 503.7,355.0" fill="#222" stroke="none" stroke-width="0.6" stroke-linejoin="round" />
<polyline points="533.9,358.3 533.9,362.3 615.2,362.3 615.2,358.3" fill="none" stroke="#444" stroke-width="0.8" stroke-linejoin="round" stroke-linecap="round" />
<polyline points="544.1,360.0 544.1,362.3" fill="none" stroke="#444" stroke-width="0.7" stroke-linejoin="round" stroke-linecap="round" />
<polyline points="554.2,358.3 554.2,362.3" fill="none" stroke="#444" stroke-width="0.7" stroke-linejoin="round" stroke-linecap="round" />
<polyline points="564.4,360.0 564.4,362.3" fill="none" stroke="#444" stroke-width="0.7" stroke-linejoin="round" stroke-linecap="round" />
<polyline points="574.5,358.3 574.5,362.3" fill="none" stroke="#444" stroke-width="0.7" stroke-linejoin="round" stroke-linecap="round" />
<polyline points="584.7,360.0 584.7,362.3" fill="none" stroke="#444" stroke-width="0.7" stroke-linejoin="round" stroke-linecap="round" />
<polyline points="594.9,360.0 594.9,362.3" fill="none" stroke="#444" stroke-width="0.7" stroke-linejoin="round" stroke-linecap="round" />
<polyline points="605.0,360.0 605.0,362.3" fill="none" stroke="#444" stroke-width="0.7" stroke-linejoin="round" stroke-linecap="round" />
<text x="533.9" y="355" font-size="5.4" font-family="Liberation Sans, sans-serif" fill="#3c3c3c" text-anchor="middle">0</text>
<text x="554.1" y="355" font-size="5.4" font-family="Liberation Sans, sans-serif" fill="#3c3c3c" text-anchor="middle">500</text>
<text x="574.3" y="355" font-size="5.4" font-family="Liberation Sans, sans-serif" fill="#3c3c3c" text-anchor="middle">1,000</text>
<text x="607.8" y="355" font-size="5.4" font-family="Liberation Sans, sans-serif" fill="#3c3c3c" textLength="24.8" lengthAdjust="spacingAndGlyphs">2,000 Km</text>
<rect x="198.5" y="63.6" width="458" height="312.9" fill="none" stroke="#7c7c7c" stroke-width="1.05"/>
<text transform="translate(217.60,396.0) scale(1.220,1)" x="0" y="0" text-anchor="middle" font-size="12.9" font-weight="bold" font-family="Liberation Sans, sans-serif" fill="#000" stroke="#000" stroke-width="1.4" stroke-linejoin="round">O</text>
<text transform="translate(230.90,396.0) scale(1.220,1)" x="0" y="0" text-anchor="middle" font-size="12.9" font-weight="bold" font-family="Liberation Sans, sans-serif" fill="#000" stroke="#000" stroke-width="1.4" stroke-linejoin="round">P</text>
<text transform="translate(244.35,396.0) scale(1.380,1)" x="0" y="0" text-anchor="middle" font-size="12.9" font-weight="bold" font-family="Liberation Sans, sans-serif" fill="#000" stroke="#000" stroke-width="1.4" stroke-linejoin="round">S</text>
<circle cx="205.1" cy="404" r="3.3" fill="#fff" stroke="#333" stroke-width="0.9"/><circle cx="205.1" cy="404" r="1.7" fill="#777"/>
<circle cx="233.3" cy="404" r="3.3" fill="#fff" stroke="#333" stroke-width="0.9"/><circle cx="233.3" cy="404" r="1.7" fill="#777"/>
<text x="210.6" y="402.6" font-size="3.0" font-weight="bold" font-family="Liberation Sans, sans-serif" fill="#2f2f2f" textLength="14.5" lengthAdjust="spacingAndGlyphs">Organización</text>
<text x="210.6" y="405.2" font-size="3.0" font-weight="bold" font-family="Liberation Sans, sans-serif" fill="#2f2f2f" textLength="17.5" lengthAdjust="spacingAndGlyphs">Panamericana</text>
<text x="210.6" y="407.8" font-size="3.0" font-weight="bold" font-family="Liberation Sans, sans-serif" fill="#2f2f2f" textLength="12.5" lengthAdjust="spacingAndGlyphs">de la Salud</text>
<text x="238.8" y="403.2" font-size="3.0" font-weight="bold" font-family="Liberation Sans, sans-serif" fill="#2f2f2f" textLength="14.5" lengthAdjust="spacingAndGlyphs">Organización</text>
<text x="238.8" y="405.8" font-size="3.0" font-weight="bold" font-family="Liberation Sans, sans-serif" fill="#2f2f2f" textLength="21.5" lengthAdjust="spacingAndGlyphs">Mundial de la Salud</text>
<text x="230.9" y="410.4" font-size="2.6" font-family="Liberation Sans, sans-serif" fill="#888" textLength="22.9" lengthAdjust="spacingAndGlyphs">Región de las Américas</text>
<text x="270.4" y="388.30" font-size="3.9" font-family="Liberation Sans, sans-serif" fill="#969696" textLength="209.8" lengthAdjust="spacingAndGlyphs">© Organización Panamericana de la Salud / Organización Mundial de la Salud, 2026. Todos los derechos reservados.</text>
<text x="270.4" y="393.15" font-size="3.9" font-family="Liberation Sans, sans-serif" fill="#969696" textLength="358" lengthAdjust="spacingAndGlyphs">Las denominaciones empleadas en estos mapas y la forma en que aparecen presentados los datos que contienen no implican, por parte de la Secretaría de la Organización Panamericana de la Salud,</text>
<text x="270.4" y="398.00" font-size="3.9" font-family="Liberation Sans, sans-serif" fill="#969696" textLength="386.8" lengthAdjust="spacingAndGlyphs">juicio alguno sobre la condición jurídica de países, territorios, ciudades o zonas, o de sus autoridades, ni respecto del trazado de sus Fronteras o límites. Las líneas discontinuas en los mapas representan de manera</text>
<text x="270.4" y="402.85" font-size="3.9" font-family="Liberation Sans, sans-serif" fill="#969696" textLength="133" lengthAdjust="spacingAndGlyphs">proximada fronteras respecto de las cuales puede que no haya pleno acuerdo.</text>
<text x="270.4" y="407.70" font-size="3.9" font-family="Liberation Sans, sans-serif" fill="#969696" textLength="257.5" lengthAdjust="spacingAndGlyphs">Producción del mapa: OPS Departamento de Emergencias en Salud (PHE) Información de Emergencias en Salud &amp; Evaluación de Riesgo (HIM)</text>
<rect x="425.2" y="415.9" width="4.5" height="0.9" fill="#2a2a2a"/>
</svg>
<span class="t b" style="left:27.30px;top:18.10px;font-size:16.4px;transform:scaleX(0.8384);">Figura</span>
<span class="t b" style="left:75.87px;top:18.10px;font-size:16.4px;letter-spacing:1.616px;transform:scaleX(1.08);">2</span>
<span class="t" style="left:89.30px;top:17.70px;font-size:17px;transform:scaleX(0.8449);">.</span>
<span class="t" style="left:106.22px;top:17.70px;font-size:17px;letter-spacing:0.403px;transform:scaleX(1.08);">Distribución</span>
<span class="t" style="left:212.85px;top:17.70px;font-size:17px;letter-spacing:1.266px;transform:scaleX(1.08);">geográfica</span>
<span class="t" style="left:317.56px;top:17.70px;font-size:17px;letter-spacing:1.754px;transform:scaleX(1.08);">de</span>
<span class="t" style="left:346.07px;top:17.70px;font-size:17px;letter-spacing:0.393px;transform:scaleX(1.08);">casos</span>
<span class="t" style="left:401.45px;top:17.70px;font-size:17px;letter-spacing:0.861px;transform:scaleX(1.08);">confirmados</span>
<span class="t" style="left:517.21px;top:17.70px;font-size:17px;letter-spacing:1.754px;transform:scaleX(1.08);">de</span>
<span class="t" style="left:546.01px;top:17.70px;font-size:17px;letter-spacing:0.924px;transform:scaleX(1.08);">chikungunya</span>
<span class="t" style="left:665.22px;top:17.70px;font-size:17px;letter-spacing:1.124px;transform:scaleX(1.08);">en</span>
<span class="t" style="left:692.93px;top:17.70px;font-size:17px;letter-spacing:0.800px;transform:scaleX(1.08);">la</span>
<span class="t" style="left:713.83px;top:17.70px;font-size:17px;letter-spacing:0.527px;transform:scaleX(1.08);">Región</span>
<span class="t" style="left:781.12px;top:17.70px;font-size:17px;letter-spacing:1.754px;transform:scaleX(1.08);">de</span>
<span class="t" style="left:809.43px;top:17.70px;font-size:17px;transform:scaleX(1.0611);">las</span>
<span class="t" style="left:26.79px;top:40.70px;font-size:17px;letter-spacing:0.544px;transform:scaleX(1.08);">Américas,</span>
<span class="t" style="left:118.40px;top:40.70px;font-size:17px;transform:scaleX(0.8211);">SE</span>
<span class="t" style="left:142.03px;top:40.70px;font-size:17px;transform:scaleX(1.0550);">49</span>
<span class="t" style="left:167.50px;top:40.70px;font-size:17px;letter-spacing:0.973px;transform:scaleX(1.08);">del</span>
<span class="t" style="left:199.63px;top:40.70px;font-size:17px;transform:scaleX(1.0554);">2025</span>
<span class="t" style="left:245.58px;top:40.70px;font-size:17px;letter-spacing:1.925px;transform:scaleX(1.08);">a</span>
<span class="t" style="left:261.84px;top:40.70px;font-size:17px;transform:scaleX(0.8211);">SE</span>
<span class="t" style="left:285.46px;top:40.70px;font-size:17px;transform:scaleX(1.0541);">4</span>
<span class="t" style="left:300.96px;top:40.70px;font-size:17px;letter-spacing:0.973px;transform:scaleX(1.08);">del</span>
<span class="t" style="left:333.08px;top:40.70px;font-size:17px;transform:scaleX(1.0557);">2026.</span>
<span class="t b" style="left:27.00px;top:419.40px;font-size:15px;transform:scaleX(0.9931);">Fuente:</span>
<span class="t" style="left:85.84px;top:419.40px;font-size:15px;letter-spacing:1.189px;transform:scaleX(1.08);">Adaptado</span>
<span class="t" style="left:169.79px;top:419.40px;font-size:15px;letter-spacing:1.211px;transform:scaleX(1.08);">de</span>
<span class="t" style="left:194.05px;top:419.40px;font-size:15px;transform:scaleX(1.0015);">los</span>
<span class="t" style="left:217.84px;top:419.40px;font-size:15px;letter-spacing:0.533px;transform:scaleX(1.08);">datos</span>
<span class="t" style="left:264.70px;top:419.40px;font-size:15px;letter-spacing:0.652px;transform:scaleX(1.08);">aportados</span>
<span class="t" style="left:347.35px;top:419.40px;font-size:15px;letter-spacing:0.587px;transform:scaleX(1.08);">por</span>
<span class="t" style="left:376.64px;top:419.40px;font-size:15px;transform:scaleX(1.0015);">los</span>
<span class="t" style="left:400.24px;top:419.40px;font-size:15px;letter-spacing:0.200px;transform:scaleX(1.08);">respectivos</span>
<span class="t" style="left:488.74px;top:419.40px;font-size:15px;transform:scaleX(1.0461);">países</span>
<span class="t" style="left:539.35px;top:419.40px;font-size:15px;letter-spacing:0.173px;transform:scaleX(1.08);">y</span>
<span class="t" style="left:552.09px;top:419.40px;font-size:15px;letter-spacing:0.476px;transform:scaleX(1.08);">reproducidos</span>
<span class="t" style="left:656.25px;top:419.40px;font-size:15px;letter-spacing:0.587px;transform:scaleX(1.08);">por</span>
<span class="t" style="left:685.80px;top:419.40px;font-size:15px;letter-spacing:0.476px;transform:scaleX(1.08);">la</span>
<span class="t" style="left:703.48px;top:419.40px;font-size:15px;transform:scaleX(1.0338);">OPS/OMS</span>
<span class="t i" style="left:783.30px;top:419.40px;font-size:15px;transform:scaleX(1.0121);">(4-18)</span>
<span class="t" style="left:825.00px;top:419.40px;font-size:15px;transform:scaleX(0.9588);">.</span>
<span class="t" style="left:135.76px;top:484.40px;font-size:15px;letter-spacing:0.475px;transform:scaleX(1.08);">Organización</span>
<span class="t" style="left:241.76px;top:484.40px;font-size:15px;letter-spacing:0.646px;transform:scaleX(1.08);">Panamericana</span>
<span class="t" style="left:359.21px;top:484.40px;font-size:15px;letter-spacing:1.236px;transform:scaleX(1.08);">de</span>
<span class="t" style="left:383.80px;top:484.40px;font-size:15px;letter-spacing:0.493px;transform:scaleX(1.08);">la</span>
<span class="t" style="left:401.51px;top:484.40px;font-size:15px;letter-spacing:0.000px;transform:scaleX(1.08);">Salud</span>
<span class="t" style="left:449.10px;top:484.40px;font-size:15px;letter-spacing:3.432px;transform:scaleX(1.08);">•</span>
<span class="t u" style="left:461.38px;top:484.40px;font-size:15px;letter-spacing:0.816px;transform:scaleX(1.08);">www.paho.org</span>
<span class="t" style="left:580.33px;top:484.40px;font-size:15px;letter-spacing:3.432px;transform:scaleX(1.08);">•</span>
<span class="t" style="left:592.16px;top:484.40px;font-size:15px;transform:scaleX(1.0466);">©</span>
<span class="t" style="left:608.03px;top:484.40px;font-size:15px;transform:scaleX(1.0361);">OPS/OMS,</span>
<span class="t" style="left:689.19px;top:484.40px;font-size:15px;transform:scaleX(1.0292);">2026</span>
<span class="t" style="left:424.91px;top:465.00px;font-size:16.6px;letter-spacing:0.580px;transform:scaleX(1.08);">2</span>
</body></html>
